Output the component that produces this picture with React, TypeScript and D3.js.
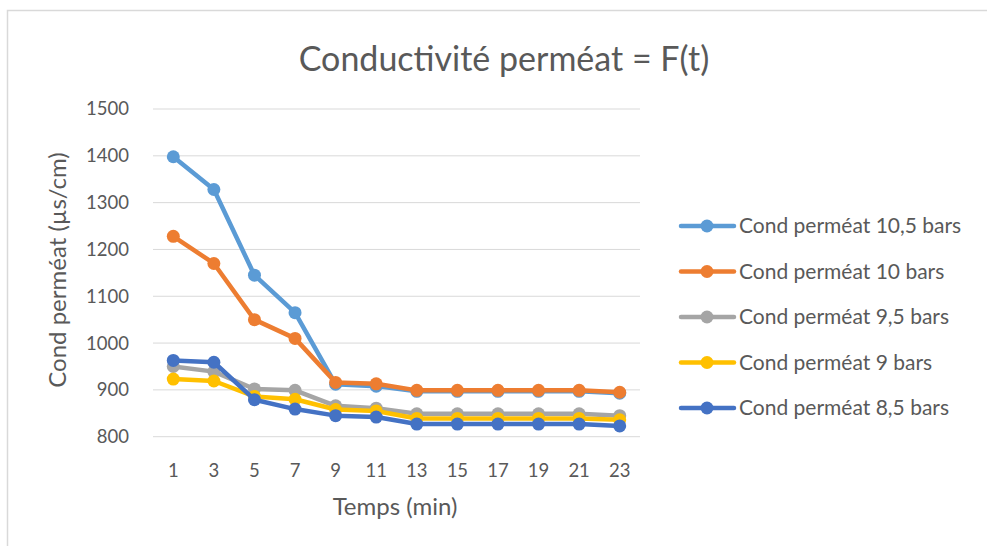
import * as React from 'react'
import * as d3 from 'd3'

const categories = ['1', '3', '5', '7', '9', '11', '13', '15', '17', '19', '21', '23']
const yTicks = [800, 900, 1000, 1100, 1200, 1300, 1400, 1500]

const seriesNames = [
  'Cond perméat 10,5 bars',
  'Cond perméat 10 bars',
  'Cond perméat 9,5 bars',
  'Cond perméat 9 bars',
  'Cond perméat 8,5 bars',
]
const cond105 = [1398, 1328, 1145, 1065, 912, 908, 897, 897, 897, 897, 897, 893]
const cond10 = [1228, 1170, 1050, 1010, 916, 913, 899, 899, 899, 899, 899, 895]
const cond95 = [950, 939, 902, 899, 866, 861, 849, 849, 849, 849, 849, 845]
const cond9 = [923, 919, 886, 880, 858, 855, 839, 839, 839, 839, 839, 836]
const cond85 = [963, 959, 879, 859, 845, 842, 827, 827, 827, 827, 827, 823]
const colors = ['#5B9BD5', '#ED7D31', '#A5A5A5', '#FFC000', '#4472C4']

const W = 987
const H = 546
const FONT = 'Lato, "Open Sans", sans-serif'
const TXT = '#595959'

export default function App() {
  const x = d3.scalePoint<string>().domain(categories).range([153, 640]).padding(0.5)
  const y = d3.scaleLinear().domain([800, 1500]).range([436.7, 109])
  const line = d3.line<number>()
    .x((_, i) => x(categories[i]) as number)
    .y(d => y(d))
  const all = [cond105, cond10, cond95, cond9, cond85]

  return (
    <svg width={W} height={H} style={{ position: 'absolute', left: 0, top: 0, background: '#fff' }}
      fontFamily={FONT}>
      {/* chart frame */}
      <path d={`M7.5,${H} V10.5 H${W}`} fill="none" stroke="#d9d9d9" strokeWidth={1.5} />

      <text x={504} y={59} dy="0.35em" textAnchor="middle" fontSize={34} fill={TXT}>Conductivité perméat = F(t)</text>

      {/* grid + y labels */}
      {yTicks.map(t => (
        <g key={t}>
          <line x1={153} x2={640} y1={y(t)} y2={y(t)} stroke="#d9d9d9" strokeWidth={1} />
          <text x={129} y={y(t)} dy="0.35em" textAnchor="end" fontSize={18.5} fill={TXT}>{t}</text>
        </g>
      ))}

      {/* x labels */}
      {categories.map(c => (
        <text key={c} x={x(c)} y={471} dy="0.35em" textAnchor="middle" fontSize={18.5} fill={TXT}>{c}</text>
      ))}

      <text x={395} y={507} dy="0.35em" textAnchor="middle" fontSize={24} fill={TXT}>Temps (min)</text>
      <text transform="translate(58,270) rotate(-90)" dy="0.35em" textAnchor="middle" fontSize={24} fill={TXT}>
        Cond perméat (µs/cm)
      </text>

      {/* series */}
      {all.map((vals, s) => (
        <g key={s}>
          <path d={line(vals) || ''} fill="none" stroke={colors[s]} strokeWidth={4.5} strokeLinejoin="round" strokeLinecap="round" />
          {vals.map((v, i) => (
            <circle key={i} cx={x(categories[i])} cy={y(v)} r={6.5} fill={colors[s]} />
          ))}
        </g>
      ))}

      {/* legend */}
      {seriesNames.map((n, s) => {
        const ly = 226 + s * 45.5
        return (
          <g key={n}>
            <line x1={681} x2={734} y1={ly} y2={ly} stroke={colors[s]} strokeWidth={4.5} strokeLinecap="round" />
            <circle cx={707} cy={ly} r={6.5} fill={colors[s]} />
            <text x={739} y={ly} dy="0.35em" fontSize={21} fill={TXT}>{n}</text>
          </g>
        )
      })}
    </svg>
  )
}
